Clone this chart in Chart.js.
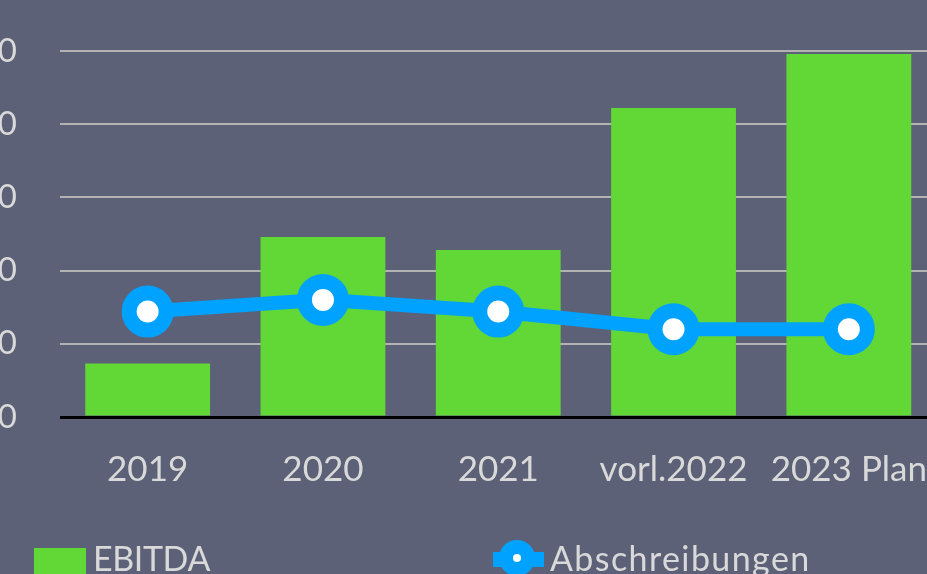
<!DOCTYPE html>
<html>
<head>
<meta charset="utf-8">
<script src="https://cdn.jsdelivr.net/npm/chart.js@4/dist/chart.umd.min.js"></script>
<style>
  html, body { margin:0; padding:0; width:927px; height:574px; overflow:hidden; background:#5c6177; }
  #wrap { position:absolute; left:-40px; top:0; width:1010px; height:574px; }
  .leg { position:absolute; font-family:Lato, sans-serif; font-size:34px; line-height:34px; color:#d9d9d9; white-space:nowrap; }
  .box { position:absolute; left:34px; top:548px; width:52px; height:26px; background:#61d836; }
  .lline { position:absolute; left:493px; top:552px; width:51px; height:15px; background:#00a2ff; }
  .ldot { position:absolute; left:499px; top:540px; width:36px; height:36px; border-radius:50%; background:#00a2ff; }
  .ldot::after { content:''; position:absolute; left:14px; top:14px; width:8px; height:8px; border-radius:50%; background:#fff; }
</style>
</head>
<body>
<div id="wrap"><canvas id="c" width="1010" height="574"></canvas></div>
<div class="box"></div>
<div class="leg" style="left:93px; top:541px; letter-spacing:-0.4px;">EBITDA</div>
<div class="lline"></div>
<div class="ldot"></div>
<div class="leg" style="left:550px; top:541px; letter-spacing:1.4px;">Abschreibungen</div>
<script>
const categories = ['2019', '2020', '2021', 'vorl.2022', '2023 Plan'];
const ebitda = [7.3, 24.6, 22.8, 42.2, 49.6];
const abschreibungen = [14.4, 16.0, 14.4, 12.0, 12.0];
const yTicks = [0, 10, 20, 30, 40, 50];

const textColor = '#d9d9d9';
const yFont = { family: 'Lato', size: 33 };
const xFont = { family: 'Lato', size: 35 };

function noPad(s) { s.paddingLeft = 0; s.paddingRight = 0; s.paddingTop = 0; s.paddingBottom = 0; }

new Chart(document.getElementById('c'), {
  data: {
    labels: categories,
    datasets: [
      {
        type: 'line', label: 'Abschreibungen', data: abschreibungen, order: 0,
        borderColor: '#00a2ff', borderWidth: 14, backgroundColor: '#ffffff',
        pointBackgroundColor: '#ffffff', pointBorderColor: '#00a2ff',
        pointRadius: 18.5, pointBorderWidth: 15, pointHoverRadius: 18.5,
        tension: 0, fill: false
      },
      {
        type: 'bar', label: 'EBITDA', data: ebitda, order: 1,
        backgroundColor: '#61d836', borderWidth: 0,
        categoryPercentage: 1.0, barPercentage: 0.712
      }
    ]
  },
  options: {
    responsive: false, animation: false,
    layout: { padding: { top: 51, right: 14, left: 0, bottom: 0 } },
    plugins: { legend: { display: false }, tooltip: { enabled: false } },
    events: [],
    scales: {
      x: {
        grid: { display: false, drawTicks: false },
        border: { display: false },
        ticks: { color: textColor, font: xFont, padding: 32, maxRotation: 0, autoSkip: false },
        afterFit: (s) => { s.height = 157; noPad(s); }
      },
      y: {
        min: 0, max: 50,
        afterBuildTicks: (s) => { s.ticks = yTicks.map(v => ({ value: v })); },
        grid: {
          drawTicks: false,
          color: (c) => c.tick && c.tick.value === 0 ? '#000000' : '#b3b3b3',
          lineWidth: (c) => c.tick && c.tick.value === 0 ? 3 : 2
        },
        border: { display: false },
        ticks: { color: textColor, font: yFont, padding: 43 },
        afterFit: (s) => { s.width = 100; noPad(s); }
      }
    }
  }
});
</script>
</body>
</html>
